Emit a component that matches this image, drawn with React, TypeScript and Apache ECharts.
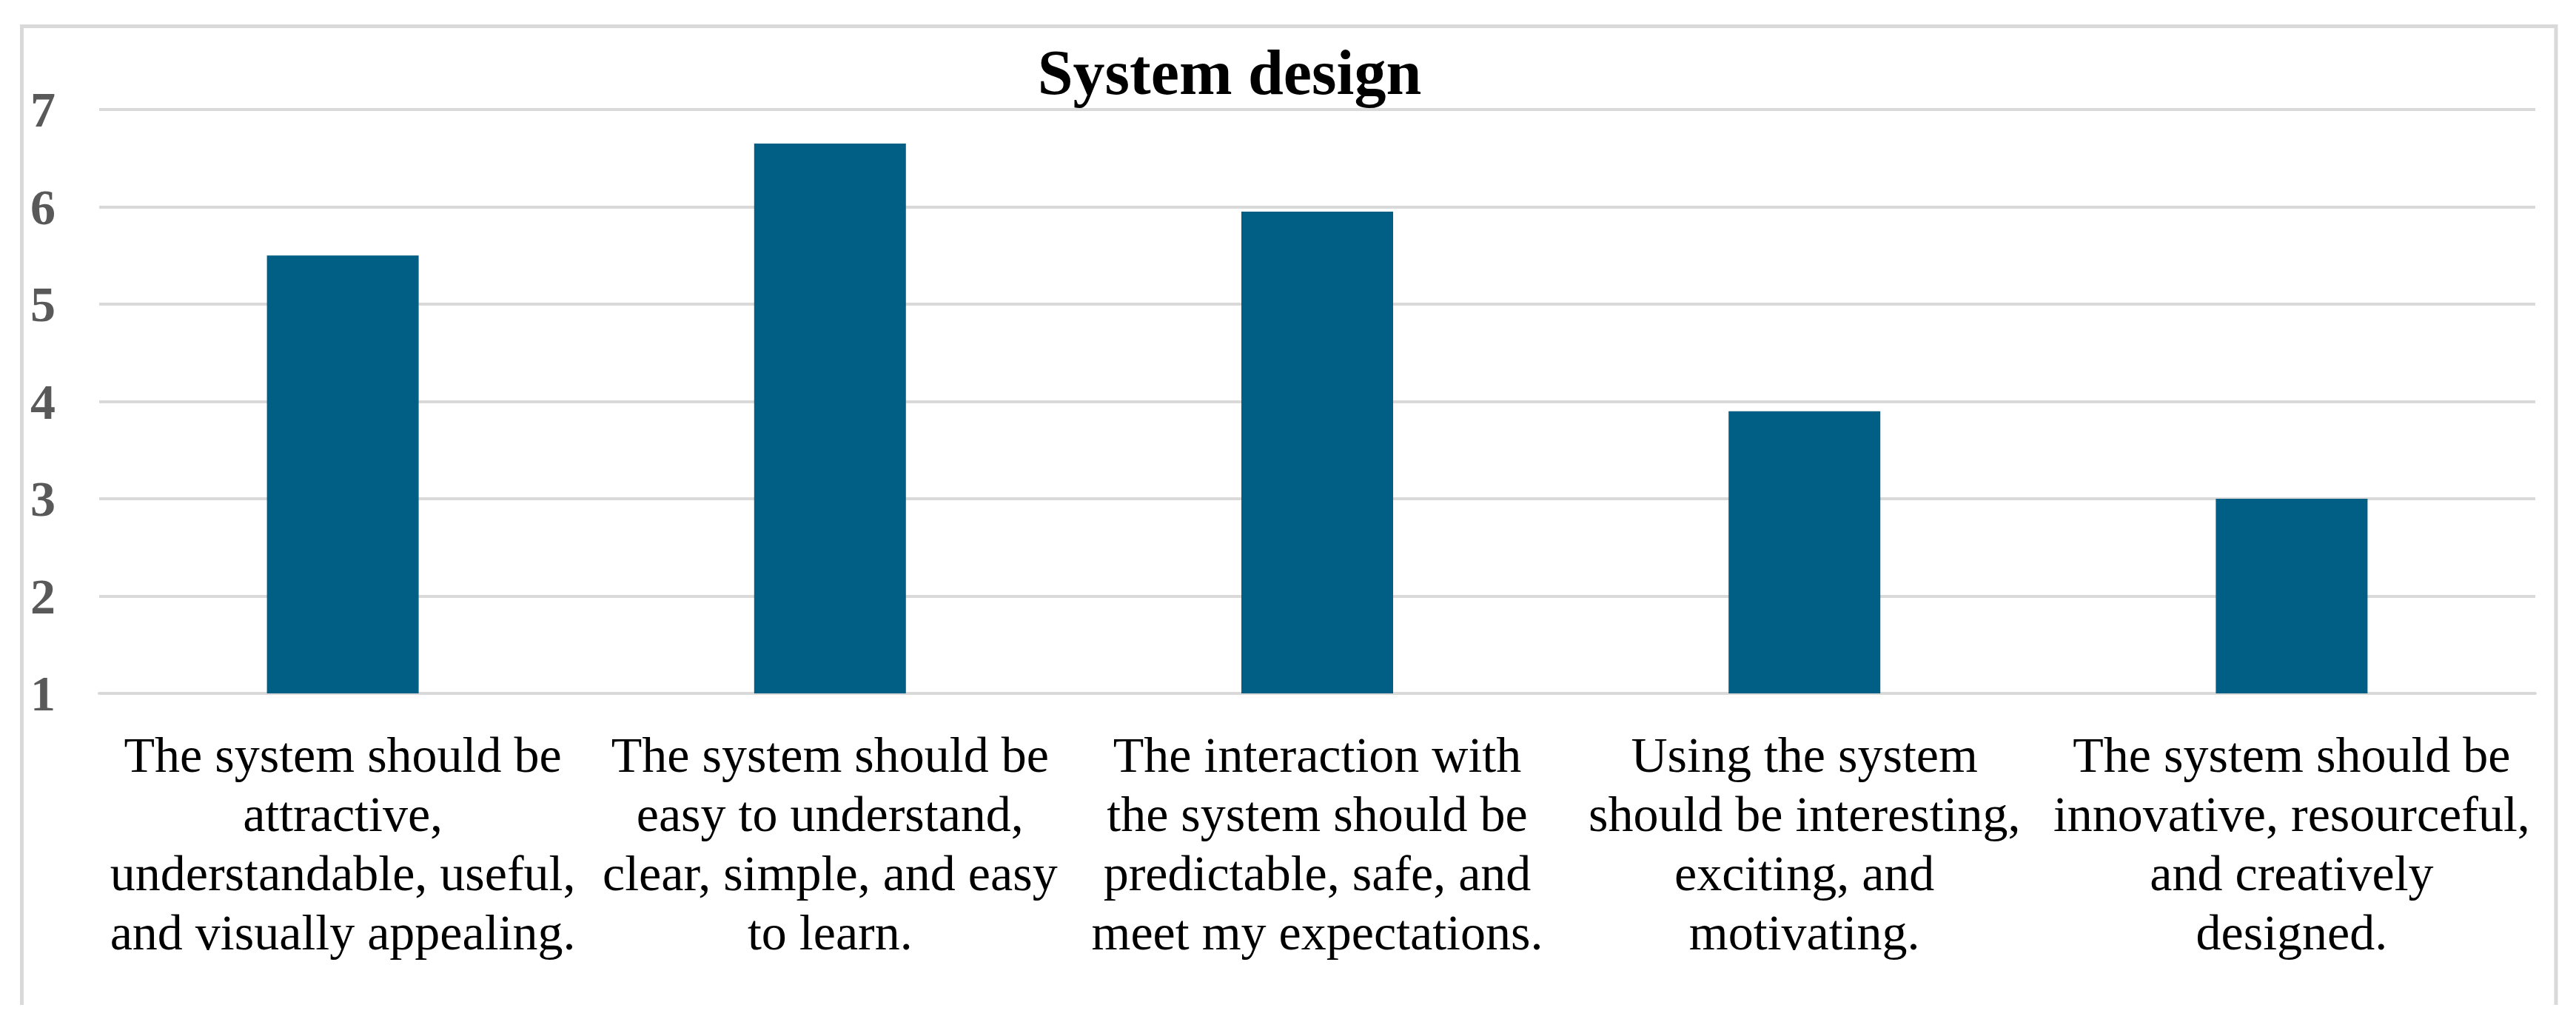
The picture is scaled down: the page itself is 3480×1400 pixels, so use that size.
import React, { useEffect, useRef } from "react";
import * as echarts from "echarts";

const title = "System design";
const categories = [
  "The system should be\nattractive,\nunderstandable, useful,\nand visually appealing.",
  "The system should be\neasy to understand,\nclear, simple, and easy\nto learn.",
  "The interaction with\nthe system should be\npredictable, safe, and\nmeet my expectations.",
  "Using the system\nshould be interesting,\nexciting, and\nmotivating.",
  "The system should be\ninnovative, resourceful,\nand creatively\ndesigned.",
];
const values = [5.5, 6.65, 5.95, 3.9, 3.0];
const yMin = 1;
const yMax = 7;
const yInterval = 1;

const FONT = "'Liberation Serif', 'Times New Roman', serif";

export default function App() {
  const ref = useRef<HTMLDivElement>(null);
  useEffect(() => {
    document.body.style.margin = "0";
    if (!ref.current) return;
    const chart = echarts.init(ref.current, null, { renderer: "svg" });
    chart.setOption({
      animation: false,
      backgroundColor: "#ffffff",
      title: {
        text: title,
        left: 1656,
        top: 93,
        textAlign: "center",
        textVerticalAlign: "middle",
        textStyle: {
          fontFamily: FONT,
          fontSize: 86,
          fontWeight: "bold",
          color: "#000000",
        },
      },
      graphic: [
        {
          type: "polyline",
          shape: {
            points: [
              [29.5, 1358],
              [29.5, 35.5],
              [3453, 35.5],
              [3453, 1358],
            ],
          },
          style: { stroke: "#d9d9d9", lineWidth: 5, fill: "none" },
          silent: true,
        },
      ],
      grid: { left: 134, right: 55, top: 148, bottom: 463 },
      xAxis: {
        type: "category",
        data: categories,
        axisLine: { show: true, lineStyle: { color: "#d9d9d9", width: 4 } },
        axisTick: { show: false },
        axisLabel: {
          interval: 0,
          margin: 43,
          fontFamily: FONT,
          fontSize: 68,
          lineHeight: 80,
          color: "#000000",
          align: "center",
        },
      },
      yAxis: {
        type: "value",
        min: yMin,
        max: yMax,
        interval: yInterval,
        axisLine: { show: false },
        axisTick: { show: false },
        splitLine: { show: true, lineStyle: { color: "#d9d9d9", width: 4 } },
        axisLabel: {
          margin: 59,
          fontFamily: FONT,
          fontSize: 68,
          fontWeight: "bold",
          color: "#595959",
        },
      },
      series: [
        {
          type: "bar",
          data: values,
          barWidth: 205,
          itemStyle: { color: "#015f86" },
          clip: true,
        },
      ],
    });
    return () => chart.dispose();
  }, []);
  return (
    <div
      ref={ref}
      style={{ position: "absolute", left: 0, top: 0, width: 3480, height: 1400 }}
    />
  );
}
